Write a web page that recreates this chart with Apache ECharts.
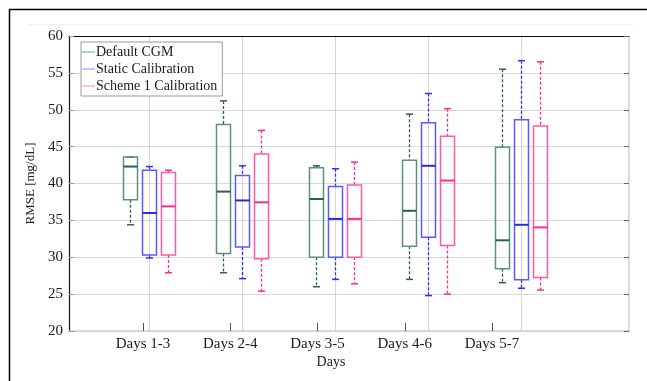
<!DOCTYPE html>
<html><head><meta charset="utf-8">
<script src="https://cdn.jsdelivr.net/npm/echarts@6/dist/echarts.min.js"></script>
<style>html,body{margin:0;padding:0;background:#fff}#c{width:647px;height:381px}</style>
</head><body><div id="c"></div>
<script>
const categories = ['Days 1-3', 'Days 2-4', 'Days 3-5', 'Days 4-6', 'Days 5-7'];
const seriesNames = ['Default CGM', 'Static Calibration', 'Scheme 1 Calibration'];
// each entry: [lower whisker, Q1, median, Q3, upper whisker]
const defaultCGM = [[34.4, 37.8, 42.3, 43.6, 43.6], [27.9, 30.5, 38.9, 48.0, 51.2], [26.0, 30.0, 37.9, 42.15, 42.4], [27.0, 31.5, 36.3, 43.15, 49.4], [26.55, 28.45, 32.3, 44.9, 55.5]];
const staticCal = [[29.9, 30.3, 36.0, 41.8, 42.3], [27.1, 31.4, 37.7, 41.1, 42.4], [27.0, 30.0, 35.2, 39.6, 42.0], [24.8, 32.7, 42.4, 48.25, 52.2], [25.8, 26.95, 34.4, 48.65, 56.65]];
const scheme1 = [[27.9, 30.3, 36.9, 41.5, 41.8], [25.4, 29.8, 37.45, 44.0, 47.2], [26.4, 30.0, 35.2, 39.8, 42.9], [25.0, 31.6, 40.4, 46.4, 50.15], [25.55, 27.25, 34.05, 47.8, 56.5]];
const yTicks = [20, 25, 30, 35, 40, 45, 50, 55, 60];
const catPositions = [1, 2, 3, 4, 5];

const FONT = '"Liberation Serif", "DejaVu Serif", serif';

function makeRender(offset, boxColor, medColor, whiskColor) {
  return function (params, api) {
    const x = api.value(0) + offset;
    const mn = api.coord([x, api.value(1)]);
    const q1 = api.coord([x, api.value(2)]);
    const md = api.coord([x, api.value(3)]);
    const q3 = api.coord([x, api.value(4)]);
    const mx = api.coord([x, api.value(5)]);
    const cx = Math.round(mn[0]) + 0.5;
    const bw = 14, cw = 7;
    const children = [];
    const dash = { stroke: whiskColor, lineWidth: 1.3, lineDash: [3, 2] };
    if (mx[1] < q3[1] - 0.5) {
      children.push({ type: 'line', shape: { x1: cx, y1: mx[1], x2: cx, y2: q3[1] }, style: dash });
    }
    if (mn[1] > q1[1] + 0.5) {
      children.push({ type: 'line', shape: { x1: cx, y1: q1[1], x2: cx, y2: mn[1] }, style: dash });
    }
    children.push({ type: 'line', shape: { x1: cx - cw / 2, y1: mx[1], x2: cx + cw / 2, y2: mx[1] }, style: { stroke: whiskColor, lineWidth: 1.5 } });
    children.push({ type: 'line', shape: { x1: cx - cw / 2, y1: mn[1], x2: cx + cw / 2, y2: mn[1] }, style: { stroke: whiskColor, lineWidth: 1.5 } });
    children.push({ type: 'rect', shape: { x: cx - bw / 2, y: q3[1], width: bw, height: q1[1] - q3[1] }, style: { fill: 'none', stroke: boxColor, lineWidth: 1.5 } });
    children.push({ type: 'line', shape: { x1: cx - bw / 2, y1: md[1], x2: cx + bw / 2, y2: md[1] }, style: { stroke: medColor, lineWidth: 2 } });
    return { type: 'group', children: children };
  };
}

function toData(arr) { return arr.map((v, i) => [catPositions[i]].concat(v)); }

const styles = [
  { off: -0.204, box: '#5a8f88', med: '#2c5f59', wh: '#2f5f5a', legend: '#8ec4b9' },
  { off: 0, box: '#5a5aff', med: '#2a2ae6', wh: '#2f2fff', legend: '#b4b4ff' },
  { off: 0.204, box: '#ff5aa8', med: '#ff2a8e', wh: '#ff2a8e', legend: '#ffb4d4' }
];
const allData = [defaultCGM, staticCal, scheme1];

const chart = echarts.init(document.getElementById('c'), null, { renderer: 'canvas' });
chart.setOption({
  animation: false,
  backgroundColor: '#fff',
  title: {
    text: 'Days', left: 331, top: 355, textAlign: 'center', padding: 0,
    textStyle: { fontFamily: FONT, fontSize: 14, fontWeight: 'normal', color: '#222' }
  },
  graphic: [
    { type: 'rect', shape: { x: 9.5, y: 9.5, width: 700, height: 500 }, style: { fill: 'none', stroke: '#000', lineWidth: 1.5 }, z: 100 },
    { type: 'line', shape: { x1: 27, y1: 24.5, x2: 633, y2: 24.5 }, style: { stroke: '#eeeeee', lineWidth: 1 } }
  ],
  legend: {
    orient: 'vertical', left: 81, top: 42,
    backgroundColor: '#fff', borderColor: '#999', borderWidth: 1,
    padding: [3, 5, 3, 1], itemGap: 3, itemWidth: 13, itemHeight: 1.5, icon: 'rect',
    textStyle: { fontFamily: FONT, fontSize: 14, color: '#1a1a1a', padding: [0, 0, 0, -4] },
    data: seriesNames.map((n, i) => ({ name: n, itemStyle: { color: styles[i].legend } }))
  },
  grid: { left: 69, top: 36, width: 560, height: 295, containLabel: false },
  xAxis: [
    {
      type: 'value', min: 0.14, max: 6.161, position: 'bottom',
      axisLine: { show: false }, axisLabel: { show: false },
      axisTick: { show: false, customValues: catPositions },
      splitLine: { show: true, lineStyle: { color: '#d6d6d6', width: 1 } }
    },
    {
      type: 'value', min: 0.152, max: 6.570, position: 'bottom',
      axisLine: { show: true, lineStyle: { color: '#d0d0d0', width: 1.5 } },
      axisTick: { show: true, inside: true, length: 8, lineStyle: { color: '#555' }, customValues: catPositions },
      axisLabel: {
        customValues: catPositions, margin: 6,
        formatter: v => categories[Math.round(v) - 1],
        fontFamily: FONT, fontSize: 15, color: '#1a1a1a'
      },
      splitLine: { show: false }
    },
    {
      type: 'value', min: 0.152, max: 6.570, position: 'top',
      axisLine: { show: true, lineStyle: { color: '#111', width: 1.2 } },
      axisTick: { show: false }, axisLabel: { show: false }, splitLine: { show: false }
    }
  ],
  yAxis: [
    {
      type: 'value', min: yTicks[0], max: yTicks[yTicks.length - 1], interval: 5, position: 'left',
      name: 'RMSE [mg/dL]', nameLocation: 'middle', nameGap: 26,
      nameTextStyle: { fontFamily: FONT, fontSize: 13, color: '#222' },
      axisLine: { show: true, lineStyle: { color: '#111', width: 1.2 } },
      axisTick: { show: true, inside: true, length: 5, lineStyle: { color: '#999' } },
      axisLabel: { fontFamily: FONT, fontSize: 15, color: '#1a1a1a', margin: 6 },
      splitLine: { show: true, lineStyle: { color: '#d9d9d9', width: 1 } }
    },
    {
      type: 'value', min: yTicks[0], max: yTicks[yTicks.length - 1], interval: 5, position: 'right',
      axisLine: { show: true, lineStyle: { color: '#d0d0d0', width: 1.5 } },
      axisTick: { show: true, inside: true, length: 5, lineStyle: { color: '#666' } },
      axisLabel: { show: false }, splitLine: { show: false }
    }
  ],
  series: seriesNames.map((n, i) => ({
    name: n, type: 'custom', xAxisIndex: 0, yAxisIndex: 0,
    itemStyle: { color: styles[i].legend },
    encode: { x: 0, y: [1, 2, 3, 4, 5] },
    renderItem: makeRender(styles[i].off, styles[i].box, styles[i].med, styles[i].wh),
    data: toData(allData[i]), z: 3
  }))
});
</script></body></html>
